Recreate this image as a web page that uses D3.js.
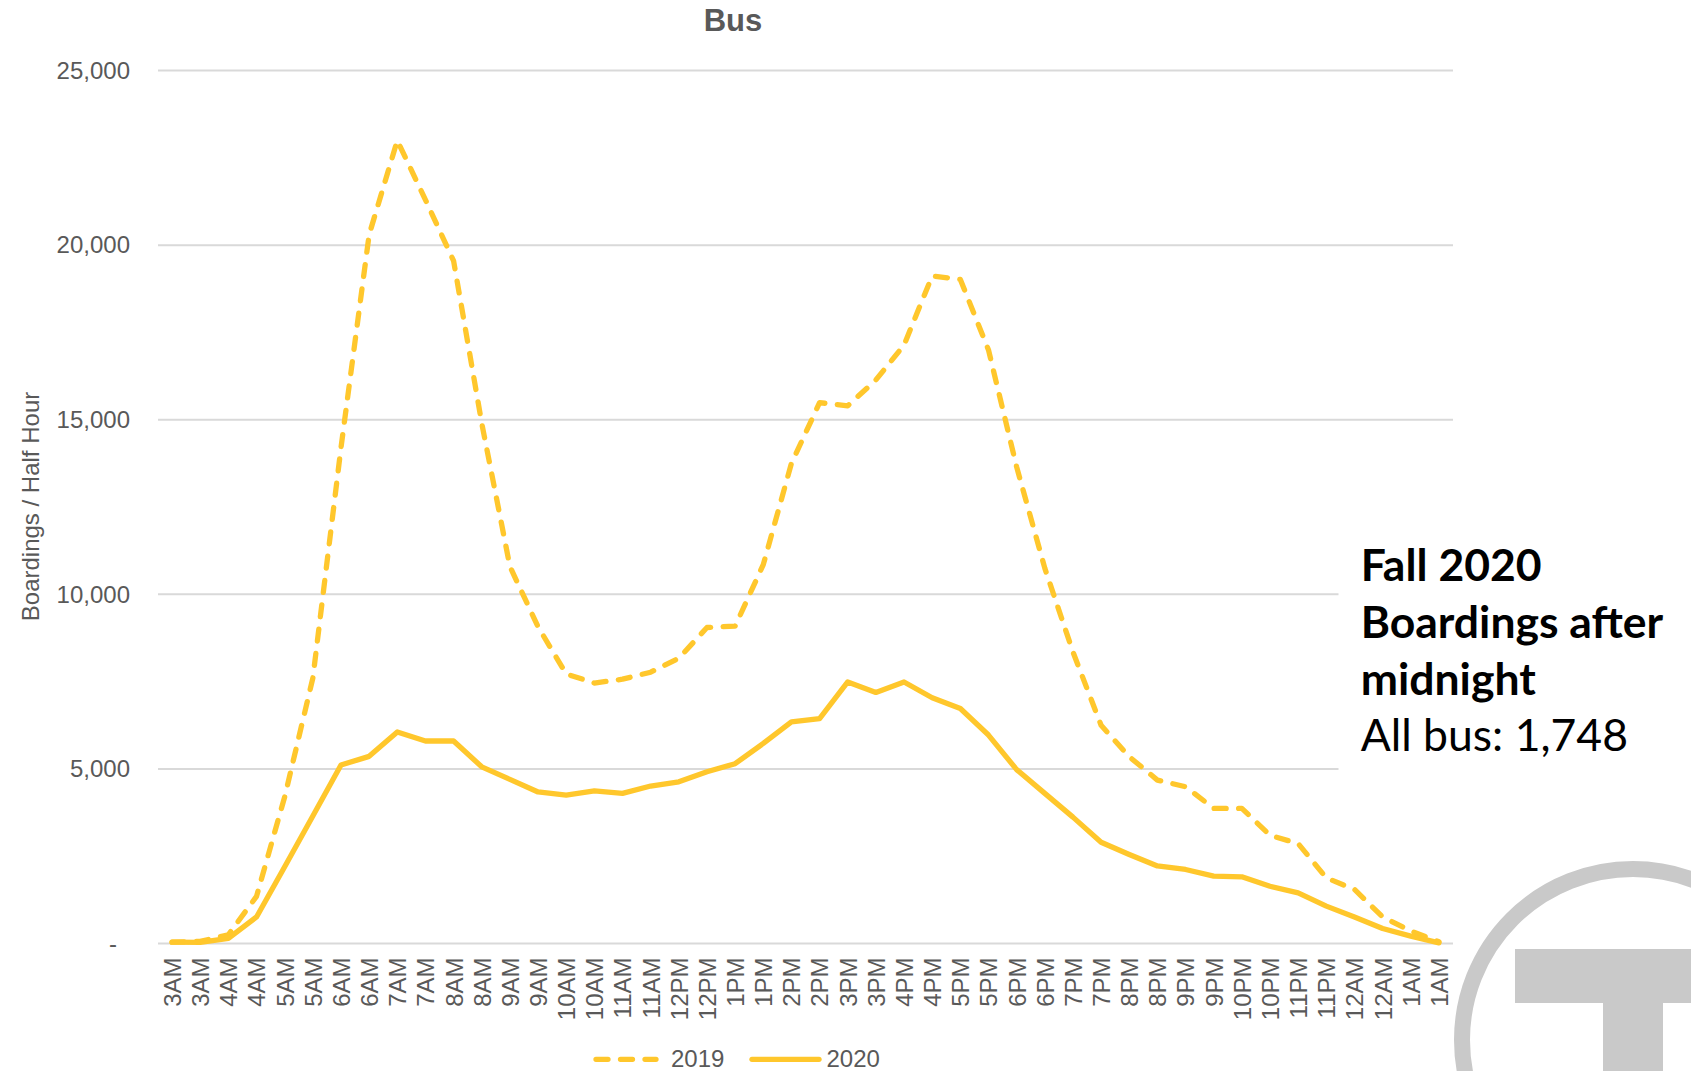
<!DOCTYPE html>
<html>
<head>
<meta charset="utf-8">
<script src="https://cdn.jsdelivr.net/npm/d3@7"></script>
<style>
  body { margin: 0; background: #fff; }
  svg { display: block; }
</style>
</head>
<body>
<svg id="chart" width="1691" height="1071"></svg>
<script>
// half-hour slots, 3AM through 1AM next day
const timeLabels = [
  "3AM", "3AM", "4AM", "4AM", "5AM", "5AM", "6AM", "6AM", "7AM", "7AM",
  "8AM", "8AM", "9AM", "9AM", "10AM", "10AM", "11AM", "11AM", "12PM", "12PM",
  "1PM", "1PM", "2PM", "2PM", "3PM", "3PM", "4PM", "4PM", "5PM", "5PM",
  "6PM", "6PM", "7PM", "7PM", "8PM", "8PM", "9PM", "9PM", "10PM", "10PM",
  "11PM", "11PM", "12AM", "12AM", "1AM", "1AM"
];

const boardings2019 = [
  40, 60, 250, 1350, 4200, 7600, 14200, 20300, 23000, 21300,
  19550, 14900, 10800, 9070, 7720, 7460, 7570, 7770, 8170, 9050,
  9090, 10850, 13750, 15490, 15400, 16140, 17140, 19120, 19020, 17000,
  13650, 10750, 8350, 6250, 5350, 4680, 4490, 3870, 3870, 3100,
  2860, 1880, 1550, 760, 360, 50
];

const boardings2020 = [
  40, 30, 150, 760, 2200, 3650, 5110, 5360, 6060, 5800,
  5800, 5060, 4700, 4340, 4250, 4370, 4300, 4510, 4630, 4920,
  5150, 5730, 6350, 6440, 7490, 7190, 7490, 7040, 6730, 5970,
  4980, 4300, 3620, 2900, 2550, 2220, 2120, 1930, 1910, 1640,
  1450, 1070, 760, 430, 210, 20
];

const yTicks = [0, 5000, 10000, 15000, 20000, 25000];

const seriesNames = ["2019", "2020"];
const noteLines = ["Fall 2020", "Boardings after", "midnight"];
const noteValue = "All bus: 1,748";

const font = "'Liberation Sans', Arial, sans-serif";
const textGray = "#595959";
const lineColor = "#FFC72C";
const dashPattern = "12,12.5";

const svg = d3.select("#chart");
const plot = { left: 158, right: 1453, top: 70.6, bottom: 943.5 };

const x = d3
  .scalePoint()
  .domain(d3.range(timeLabels.length))
  .range([plot.left, plot.right])
  .padding(0.5);

const y = d3
  .scaleLinear()
  .domain([0, 25000])
  .range([plot.bottom, plot.top]);

// grid
svg
  .append("g")
  .selectAll("line")
  .data(yTicks)
  .enter()
  .append("line")
  .attr("x1", plot.left)
  .attr("x2", plot.right)
  .attr("y1", (d) => y(d))
  .attr("y2", (d) => y(d))
  .attr("stroke", "#d9d9d9")
  .attr("stroke-width", 2);

// y axis labels
const yAxis = svg
  .append("g")
  .attr("transform", "translate(" + plot.left + ",0)")
  .call(
    d3
      .axisLeft(y)
      .tickValues(yTicks)
      .tickSize(0)
      .tickPadding(28)
      .tickFormat((d) => (d === 0 ? "-" : d3.format(",")(d)))
  );
yAxis.select(".domain").remove();
yAxis
  .selectAll("text")
  .attr("font-family", font)
  .attr("font-size", 24)
  .attr("fill", textGray)
  .attr("x", (d) => (d === 0 ? -41 : -28));

// x axis labels
const xAxis = svg
  .append("g")
  .attr("transform", "translate(0," + plot.bottom + ")")
  .call(
    d3
      .axisBottom(x)
      .tickSize(0)
      .tickFormat((i) => timeLabels[i])
  );
xAxis.select(".domain").remove();
xAxis
  .selectAll("text")
  .attr("font-family", font)
  .attr("font-size", 24)
  .attr("fill", textGray)
  .attr("text-anchor", "end")
  .attr("transform", "rotate(-90)")
  .attr("x", -14)
  .attr("y", 0)
  .attr("dy", "0.35em");

// lines
const line = d3
  .line()
  .x((d, i) => x(i))
  .y((d) => y(d));

svg
  .append("path")
  .datum(boardings2019)
  .attr("d", line)
  .attr("fill", "none")
  .attr("stroke", lineColor)
  .attr("stroke-width", 5.3)
  .attr("stroke-linecap", "round")
  .attr("stroke-linejoin", "round")
  .attr("stroke-dasharray", dashPattern);

svg
  .append("path")
  .datum(boardings2020)
  .attr("d", line)
  .attr("fill", "none")
  .attr("stroke", lineColor)
  .attr("stroke-width", 5.3)
  .attr("stroke-linecap", "round")
  .attr("stroke-linejoin", "round");

// title
svg
  .append("text")
  .attr("x", 733)
  .attr("y", 30.7)
  .attr("text-anchor", "middle")
  .attr("font-family", font)
  .attr("font-size", 31)
  .attr("font-weight", "bold")
  .attr("fill", textGray)
  .text("Bus");

// y axis title
svg
  .append("text")
  .attr("transform", "translate(39,506.5) rotate(-90)")
  .attr("text-anchor", "middle")
  .attr("font-family", font)
  .attr("font-size", 24)
  .attr("fill", textGray)
  .text("Boardings / Half Hour");

// legend
const legend = svg.append("g").attr("transform", "translate(0,1059.3)");
legend
  .append("line")
  .attr("x1", 596)
  .attr("x2", 656)
  .attr("stroke", lineColor)
  .attr("stroke-width", 5.3)
  .attr("stroke-linecap", "round")
  .attr("stroke-dasharray", dashPattern);
legend
  .append("line")
  .attr("x1", 752)
  .attr("x2", 819)
  .attr("stroke", lineColor)
  .attr("stroke-width", 5.3)
  .attr("stroke-linecap", "round");
legend
  .selectAll("text")
  .data(seriesNames)
  .enter()
  .append("text")
  .attr("x", (d, i) => [671, 826.5][i])
  .attr("y", 8)
  .attr("font-family", font)
  .attr("font-size", 24)
  .attr("fill", textGray)
  .text((d) => d);

// note box
svg
  .append("rect")
  .attr("x", 1338.5)
  .attr("y", 530)
  .attr("width", 360)
  .attr("height", 262)
  .attr("fill", "#fff");

const note = svg.append("g").attr("font-family", "Lato, 'Open Sans', sans-serif").attr("fill", "#000");
note
  .selectAll("text.head")
  .data(noteLines)
  .enter()
  .append("text")
  .attr("class", "head")
  .attr("x", 1360.7)
  .attr("y", (d, i) => 580.7 + i * 57.2)
  .attr("font-size", 44.5)
  .attr("font-weight", "bold")
  .text((d) => d);
note
  .append("text")
  .attr("x", 1360.7)
  .attr("y", 750.7)
  .attr("font-size", 44.5)
  .text(noteValue);

// T logo
const logo = svg.append("g").attr("fill", "#c9c9c9");
logo
  .append("circle")
  .attr("cx", 1633)
  .attr("cy", 1040)
  .attr("r", 171)
  .attr("fill", "none")
  .attr("stroke", "#c9c9c9")
  .attr("stroke-width", 16);
logo.append("rect").attr("x", 1515).attr("y", 949).attr("width", 240).attr("height", 54);
logo.append("rect").attr("x", 1603).attr("y", 1000).attr("width", 60).attr("height", 80);
</script>
</body>
</html>
